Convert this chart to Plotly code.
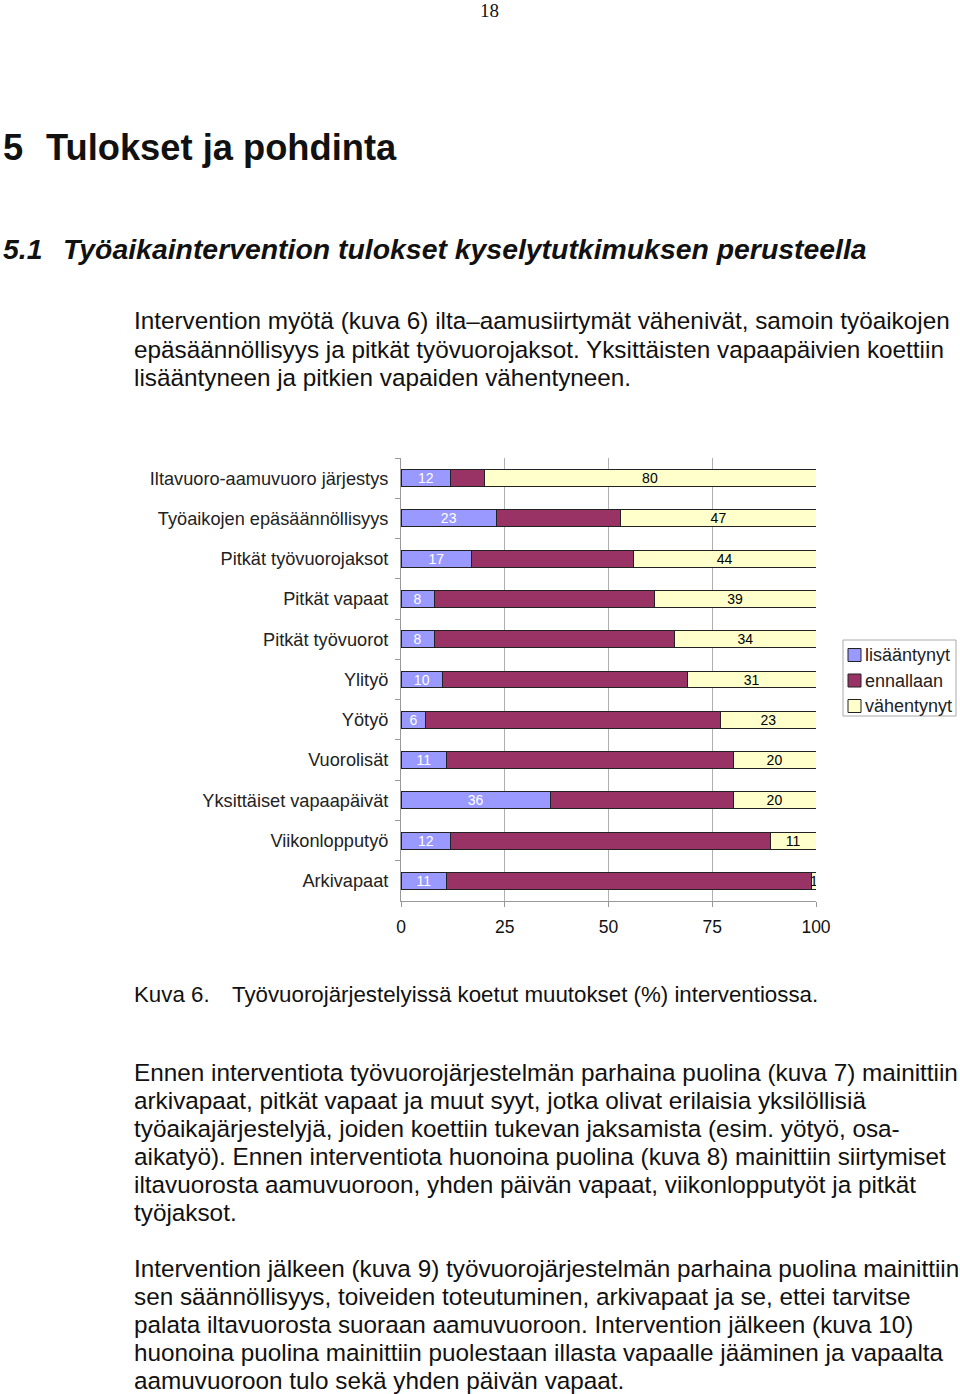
import plotly.graph_objects as go

# data (kuva 6), percentages
kategoriat = ["Iltavuoro-aamuvuoro järjestys", "Työaikojen epäsäännöllisyys",
              "Pitkät työvuorojaksot", "Pitkät vapaat", "Pitkät työvuorot",
              "Ylityö", "Yötyö", "Vuorolisät", "Yksittäiset vapaapäivät",
              "Viikonlopputyö", "Arkivapaat"]
lisaantynyt = [12, 23, 17, 8, 8, 10, 6, 11, 36, 12, 11]
ennallaan = [8, 30, 39, 53, 58, 59, 71, 69, 44, 77, 88]
vahentynyt = [80, 47, 44, 39, 34, 31, 23, 20, 20, 11, 1]
sarjat = ["lisääntynyt", "ennallaan", "vähentynyt"]
x_ticks = [0, 25, 50, 75, 100]

# page text around the chart
kpl1 = ["Intervention myötä (kuva 6) ilta\u2013aamusiirtymät vähenivät, samoin työaikojen",
        "epäsäännöllisyys ja pitkät työvuorojaksot. Yksittäisten vapaapäivien koettiin",
        "lisääntyneen ja pitkien vapaiden vähentyneen."]
kpl2 = ["Ennen interventiota työvuorojärjestelmän parhaina puolina (kuva 7) mainittiin",
        "arkivapaat, pitkät vapaat ja muut syyt, jotka olivat erilaisia yksilöllisiä",
        "työaikajärjestelyjä, joiden koettiin tukevan jaksamista (esim. yötyö, osa-",
        "aikatyö). Ennen interventiota huonoina puolina (kuva 8) mainittiin siirtymiset",
        "iltavuorosta aamuvuoroon, yhden päivän vapaat, viikonlopputyöt ja pitkät",
        "työjaksot."]
kpl3 = ["Intervention jälkeen (kuva 9) työvuorojärjestelmän parhaina puolina mainittiin",
        "sen säännöllisyys, toiveiden toteutuminen, arkivapaat ja se, ettei tarvitse",
        "palata iltavuorosta suoraan aamuvuoroon. Intervention jälkeen (kuva 10)",
        "huonoina puolina mainittiin puolestaan illasta vapaalle jääminen ja vapaalta",
        "aamuvuoroon tulo sekä yhden päivän vapaat."]

W, H = 960, 1394
FONT = "Liberation Sans, Arial, sans-serif"
VARIT = ["#9999FF", "#993366", "#FFFFCC"]

def px(x):
    return x / W

def py(y):
    return 1 - y / H

fig = go.Figure()
fig.add_trace(go.Bar(y=kategoriat, x=lisaantynyt, name=sarjat[0], orientation="h",
                     marker=dict(color=VARIT[0], line=dict(color="#222", width=1)),
                     text=[str(v) for v in lisaantynyt], textposition="inside",
                     insidetextanchor="middle", textangle=0, constraintext="none",
                     textfont=dict(size=14, color="white", family=FONT), width=0.42))
fig.add_trace(go.Bar(y=kategoriat, x=ennallaan, name=sarjat[1], orientation="h",
                     marker=dict(color=VARIT[1], line=dict(color="#222", width=1)),
                     width=0.42))
fig.add_trace(go.Bar(y=kategoriat, x=vahentynyt, name=sarjat[2], orientation="h",
                     marker=dict(color=VARIT[2], line=dict(color="#222", width=1)),
                     text=[str(v) for v in vahentynyt], textposition="inside",
                     insidetextanchor="middle", textangle=0, constraintext="none",
                     textfont=dict(size=14, color="black", family=FONT), width=0.42))

fig.update_traces(hoverinfo="name+x")

fig.update_xaxes(domain=[px(401), px(816)], range=[0, 100], tickvals=x_ticks,
                 showgrid=True, gridcolor="#b0b0b0", gridwidth=1,
                 showline=True, linecolor="#999", ticks="outside", ticklen=5,
                 tickcolor="#999", zeroline=False, ticklabelstandoff=5,
                 tickfont=dict(size=17.5, color="#111", family=FONT))
fig.update_yaxes(domain=[py(901), py(458)], autorange="reversed", showgrid=False,
                 showline=True, linecolor="#999", ticks="outside", ticklen=5,
                 tickcolor="#999", tickson="boundaries", ticklabelstandoff=8,
                 tickfont=dict(size=18.2, color="#222", family=FONT))

annot = []
annot.append(dict(text="18", x=px(490), y=py(10), font=dict(size=19, family="Liberation Serif, serif")))
annot.append(dict(text="<b>5</b>", x=px(1), y=py(147), xanchor="left", font=dict(size=36.3)))
annot.append(dict(text="<b>Tulokset ja pohdinta</b>", x=px(44), y=py(147), xanchor="left", font=dict(size=36.3)))
annot.append(dict(text="<b><i>5.1</i></b>", x=px(1), y=py(249), xanchor="left", font=dict(size=28.4)))
annot.append(dict(text="<b><i>Työaikaintervention tulokset kyselytutkimuksen perusteella</i></b>",
                  x=px(61), y=py(249), xanchor="left", font=dict(size=28.4)))
for i, rivi in enumerate(kpl1):
    annot.append(dict(text=rivi, x=px(132), y=py(321 + 28 * i), xanchor="left", font=dict(size=24.3)))
annot.append(dict(text="Kuva 6.", x=px(132), y=py(994), xanchor="left", font=dict(size=22.3)))
annot.append(dict(text="Työvuorojärjestelyissä koetut muutokset (%) interventiossa.",
                  x=px(230), y=py(994), xanchor="left", font=dict(size=22.3)))
for i, rivi in enumerate(kpl2):
    annot.append(dict(text=rivi, x=px(132), y=py(1072 + 28 * i), xanchor="left", font=dict(size=24.3)))
for i, rivi in enumerate(kpl3):
    annot.append(dict(text=rivi, x=px(132), y=py(1268 + 28 * i), xanchor="left", font=dict(size=24.3)))

# legend drawn by hand to get the compact Excel look
shapes = [dict(type="rect", xref="paper", yref="paper", x0=px(843), x1=px(956),
               y0=py(716), y1=py(640), line=dict(color="#aaa", width=1), fillcolor="white")]
for i, (nimi, vari) in enumerate(zip(sarjat, VARIT)):
    yc = 655 + 25.5 * i
    shapes.append(dict(type="rect", xref="paper", yref="paper", x0=px(848), x1=px(861),
                       y0=py(yc + 6.5), y1=py(yc - 6.5), fillcolor=vari,
                       line=dict(color="#222", width=1)))
    annot.append(dict(text=nimi, x=px(863), y=py(yc), xanchor="left",
                      font=dict(size=18, color="#222")))

for a in annot:
    a.setdefault("xanchor", "center")
    a.update(xref="paper", yref="paper", yanchor="middle", showarrow=False)
    a["font"].setdefault("family", FONT)
    a["font"].setdefault("color", "#111")

fig.update_layout(width=W, height=H, margin=dict(l=0, r=0, t=0, b=0, autoexpand=False),
                  barmode="stack", plot_bgcolor="white", paper_bgcolor="white",
                  font=dict(family=FONT, color="#222"),
                  showlegend=False, shapes=shapes, annotations=annot)

fig.write_html("out.html", config={"displayModeBar": False},
               post_script="document.body.style.margin='0';")
